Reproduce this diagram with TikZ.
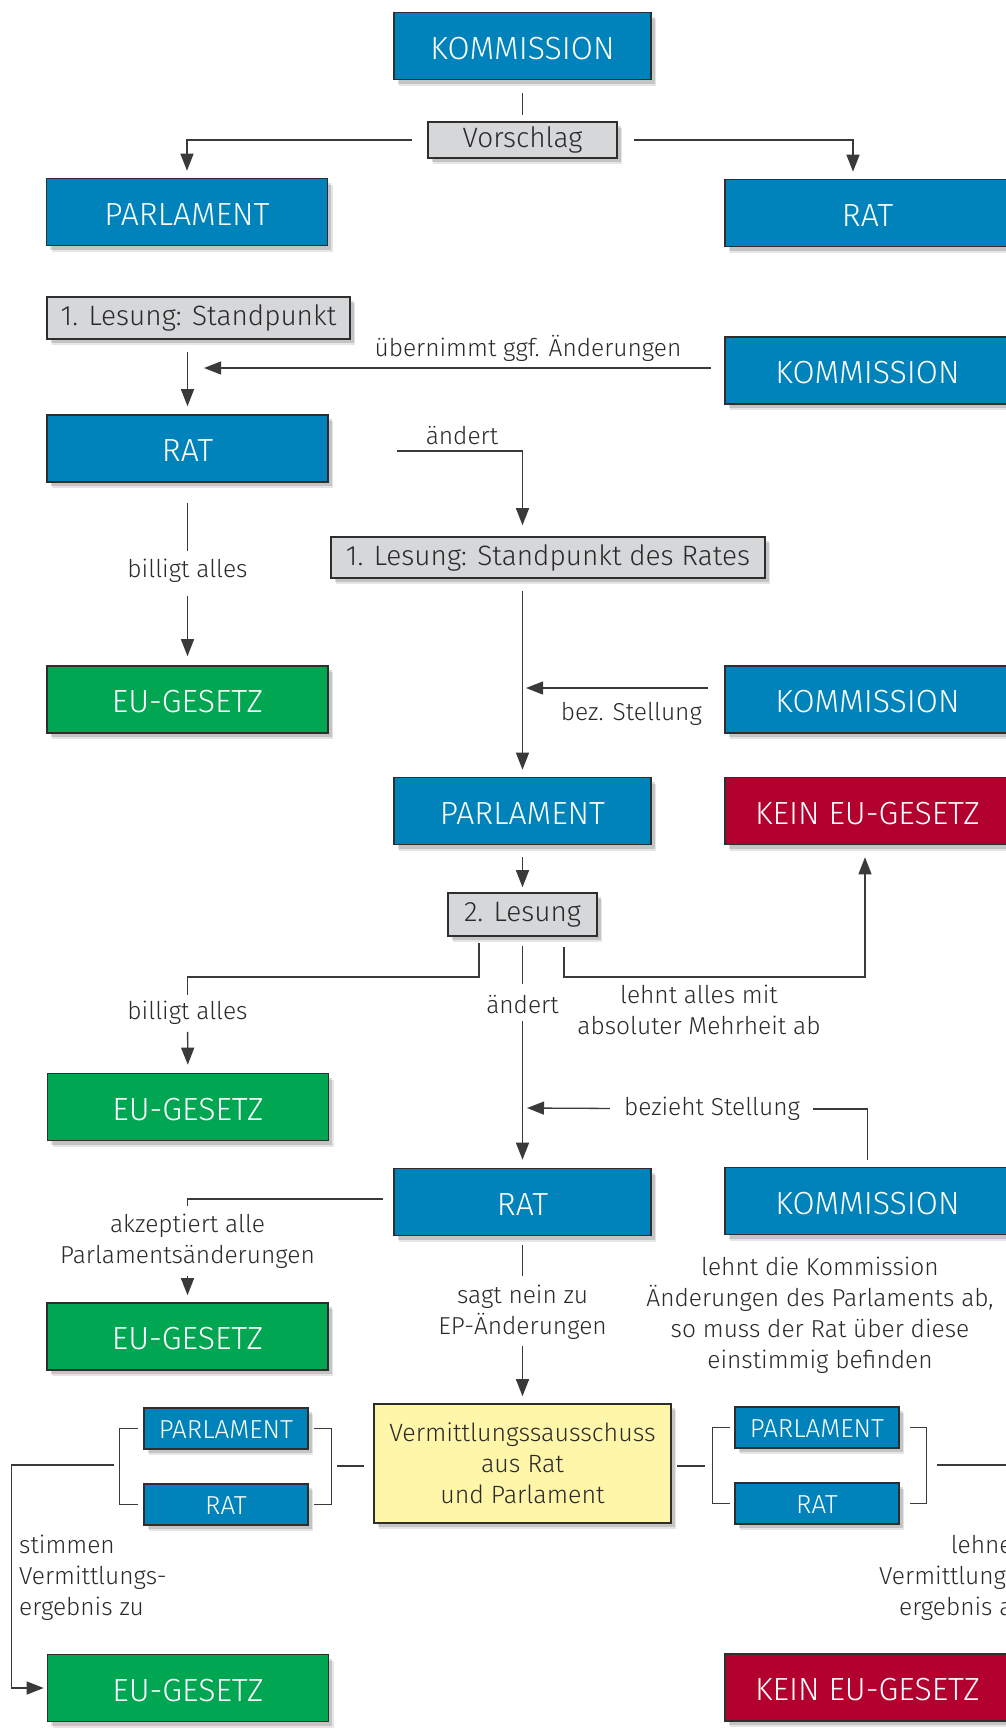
\documentclass[tikz,border=0pt]{standalone}
\usepackage{fontspec}
\setmainfont{Fira Sans Light}
\usetikzlibrary{arrows.meta,shadows,calc}
\definecolor{eublue}{HTML}{0083BA}
\definecolor{eugreen}{HTML}{00A651}
\definecolor{eured}{HTML}{B2002F}
\definecolor{boxgray}{HTML}{D6D7D9}
\definecolor{vyellow}{HTML}{FFF6AA}
\definecolor{bord}{HTML}{2E2E2E}
\definecolor{lncol}{HTML}{3A3A3A}
\definecolor{txtcol}{HTML}{2A2A2A}
\newcommand\myBig{\fontsize{32}{38}\selectfont}
\newcommand\myGray{\fontsize{28}{33}\selectfont}
\newcommand\myLbl{\fontsize{24.5}{31}\selectfont}
\newcommand\mySmall{\fontsize{26}{30}\selectfont}
\newcommand\myVerm{\fontsize{25}{31}\selectfont}
\begin{document}
\begin{tikzpicture}[x=1pt,y=-1pt,
  shadowed/.style={general shadow={shadow xshift=5pt, shadow yshift=-6pt, fill=black, opacity=0.10},
                   general shadow={shadow xshift=3.5pt, shadow yshift=-4pt, fill=black, opacity=0.14}},
  basebox/.style={draw=bord, line width=1.6pt, inner sep=0pt, shadowed},
  bigbox/.style={basebox, text=white, font=\myBig, minimum height=67pt, text height=26pt, text depth=0pt},
  bluebox/.style={bigbox, fill=eublue},
  greenbox/.style={bigbox, fill=eugreen},
  redbox/.style={bigbox, fill=eured},
  graybox/.style={basebox, fill=boxgray, text=txtcol, font=\myGray, minimum height=42pt},
  smallbox/.style={basebox, fill=eublue, text=white, font=\mySmall, minimum height=41pt, minimum width=164pt, text height=20pt, text depth=0pt},
  vermbox/.style={basebox, fill=vyellow, text=txtcol, font=\myVerm, align=center, minimum height=119pt, minimum width=297pt},
  colL/.style={minimum width=281pt},
  colM/.style={minimum width=257pt},
  colR/.style={minimum width=285pt},
  lbl/.style={inner sep=0pt, text=txtcol, font=\myLbl},
  conn/.style={draw=lncol, line width=1.3pt},
  arr/.style={conn, -{Triangle[length=17pt,width=13pt]}}
]
\useasboundingbox (0,0) rectangle (1005,1729);
\fill[white] (0,0) rectangle (1005,1729);

% ---------- boxes ----------
\node[bluebox, colM] (kom1) at (522.5,46) {KOMMISSION};
\node[graybox, minimum width=189pt, minimum height=36pt] (vor) at (522.5,140) {Vorschlag};
\node[bluebox, colL] (parl1) at (187,212) {PARLAMENT};
\node[bluebox, colR] (rat1) at (867.5,213) {RAT};

\node[graybox, minimum width=303pt] (les1) at (198.5,318) {1. Lesung: Standpunkt};
\node[bluebox, colR] (kom2) at (867.5,370.5) {KOMMISSION};
\node[bluebox, colL] (rat2) at (187.5,448.5) {RAT};
\node[graybox, minimum width=434pt, minimum height=41pt] (les2) at (548,557.5) {1. Lesung: Standpunkt des Rates};

\node[greenbox, colL] (eu1) at (187.5,699.5) {EU-GESETZ};
\node[bluebox, colR] (kom3) at (867.5,699.5) {KOMMISSION};
\node[bluebox, colM] (parl2) at (522.5,811) {PARLAMENT};
\node[redbox, colR] (kein1) at (867.5,811) {KEIN EU-GESETZ};

\node[graybox, minimum width=149pt, minimum height=43pt] (les3) at (522.5,914.5) {2. Lesung};
\node[greenbox, colL] (eu2) at (188,1107) {EU-GESETZ};
\node[bluebox, colM] (rat3) at (522.5,1202) {RAT};
\node[bluebox, colR] (kom4) at (867.5,1201) {KOMMISSION};
\node[greenbox, colL] (eu3) at (187.5,1336.5) {EU-GESETZ};

\node[vermbox] (verm) at (522.5,1463.5) {Vermittlungssausschuss\\aus Rat\\und Parlament};
\node[smallbox] (parlSL) at (226,1428.5) {PARLAMENT};
\node[smallbox] (ratSL) at (226,1504.5) {RAT};
\node[smallbox] (parlSR) at (817,1427.5) {PARLAMENT};
\node[smallbox] (ratSR) at (817,1503.5) {RAT};

\node[greenbox, colL] (eu4) at (188,1688) {EU-GESETZ};
\node[redbox, colR] (kein2) at (867.5,1687.5) {KEIN EU-GESETZ};

% ---------- labels ----------
\node[lbl, anchor=base] (ueb) at (528,356) {übernimmt ggf. Änderungen};
\node[lbl, anchor=base] (aend1) at (462,444) {ändert};
\node[lbl] (bill1) at (187.5,571) {billigt alles};
\node[lbl, anchor=base east] (bez1) at (702,720) {bez. Stellung};
\node[lbl] (bill2) at (187.5,1013) {billigt alles};
\node[lbl] (aend2) at (522.5,1005) {ändert};
\node[lbl, align=center] (lehnt1) at (699,1010) {lehnt alles mit\\absoluter Mehrheit ab};
\node[lbl] (bez2) at (712,1109) {bezieht Stellung};
\node[lbl, align=center] (akz) at (187.5,1241) {akzeptiert alle\\Parlamentsänderungen};
\node[lbl, align=center] (sagt) at (522.5,1312) {sagt nein zu\\EP-Änderungen};
\node[lbl, align=center] (kml) at (820,1315) {lehnt die Kommission\\Änderungen des Parlaments ab,\\so muss der Rat über diese\\einstimmig befinden};
\node[lbl, align=left, anchor=west] (stim) at (19,1578) {stimmen\\Vermittlungs-\\ergebnis zu};
\node[lbl, align=right, anchor=east] (lehn2) at (1027,1578) {lehnen\\Vermittlungs-\\ergebnis ab};

% ---------- coordinates ----------
\coordinate (uebEnd) at (204,368);
\coordinate (aendStart) at (397,451);
\coordinate (bezEnd) at (526,688);
\coordinate (l3l) at (479,943);
\coordinate (l3r) at (564,947);
\coordinate (bz2End) at (527,1108);
\coordinate (brL) at (337,1466);
\coordinate (brLo) at (114,1465);
\coordinate (brR) at (705,1466);
\coordinate (brRo) at (937,1465);
\coordinate (edgeR) at (1012,1465);

% ---------- connectors ----------
\draw[conn, shorten <=13pt, shorten >=6pt] (kom1) -- (vor);
\draw[arr, shorten <=15pt, shorten >=7pt] (vor.west) -| (parl1.north);
\draw[arr, shorten <=16pt, shorten >=7pt] (vor.east) -| ([xshift=-14.5pt]rat1.north);

\draw[arr, shorten <=12pt, shorten >=8pt] (rat2.north |- les1.south) -- (rat2.north);
\draw[arr, shorten <=13pt] (kom2.west |- uebEnd) -- (uebEnd);
\draw[arr, shorten >=11pt] (aendStart) -| (parl2.north |- les2.north);

\draw[conn, shorten <=20pt, shorten >=8pt] (rat2) -- (bill1);
\draw[arr, shorten <=13pt, shorten >=9pt] (bill1) -- (eu1);

\draw[arr, shorten <=12pt, shorten >=7pt] (parl2.north |- les2.south) -- (parl2.north);
\draw[arr, shorten <=16pt] (kom3.west |- bezEnd) -- (bezEnd);

\draw[arr, shorten <=12pt, shorten >=5pt] (parl2) -- (les3);
\draw[conn, shorten >=6pt] (l3l) -- ++(0,34) -| (bill2.north);
\draw[arr, shorten <=7pt, shorten >=8pt] (bill2) -- (eu2);
\draw[conn, shorten <=9pt, shorten >=12pt] (les3) -- (aend2);
\draw[arr, shorten <=7pt, shorten >=8pt] (aend2) -- (rat3);
\draw[arr, shorten >=12pt] (l3r) -- ++(0,30) -| ([xshift=-2.5pt]kein1.south);

\draw[conn, shorten <=7pt, shorten >=13pt] (kom4.north) |- (bez2);
\draw[arr, shorten <=14pt] (bez2) -- (bz2End);

\draw[conn, shorten <=10pt, shorten >=8pt] ([yshift=3pt]rat3.west) -| (akz.north);
\draw[arr, shorten <=8pt, shorten >=7pt] (akz) -- (eu3);
\draw[conn, shorten <=9pt, shorten >=9pt] (rat3) -- (sagt);
\draw[arr, shorten <=7pt, shorten >=7pt] (sagt) -- (verm);

% brackets left
\draw[conn] ([xshift=-5pt]parlSL.west) -- ++(-19,0) |- ([xshift=-5pt]ratSL.west);
\draw[conn] ([xshift=5pt]parlSL.east) -- ++(18,0) |- ([xshift=5pt]ratSL.east);
\draw[conn, shorten <=9pt] (verm.west |- brL) -- (brL);
\draw[arr, shorten >=3pt] (brLo) -- ++(-102.5,0) |- (eu4.west);

% brackets right
\draw[conn] ([xshift=-4pt]parlSR.west) -- ++(-18,0) |- ([xshift=-4pt]ratSR.west);
\draw[conn] ([xshift=10pt]parlSR.east) -- ++(17,0) |- ([xshift=10pt]ratSR.east);
\draw[conn, shorten <=5pt] (verm.east |- brR) -- (brR);
\draw[conn] (brRo) -- (edgeR);
\end{tikzpicture}
\end{document}
